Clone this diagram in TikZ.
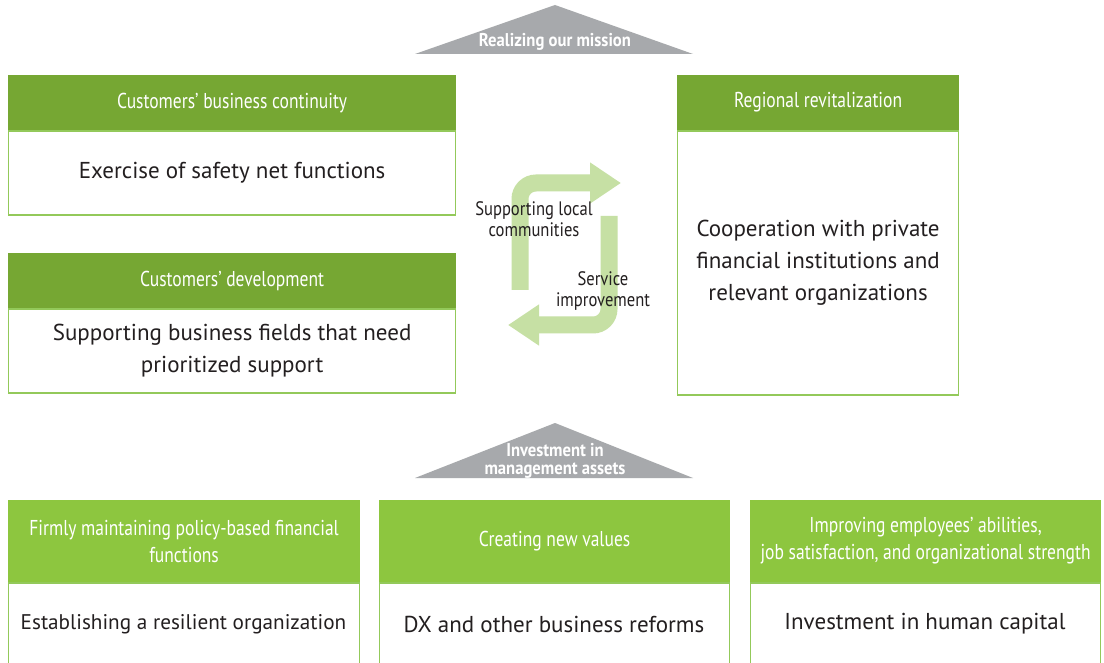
\documentclass[tikz,border=0pt]{standalone}
\usepackage{fontspec}
\setmainfont{PT Sans}
\newfontfamily\condf[FakeStretch=0.815]{PT Sans}
\newfontfamily\condtri[FakeStretch=0.9]{PT Sans}
\newfontfamily\condmid[FakeStretch=0.85]{PT Sans}
\usetikzlibrary{arrows.meta}
\definecolor{dgreen}{HTML}{76A733}
\definecolor{lgreen}{HTML}{8DC63F}
\definecolor{bordg}{HTML}{93C95A}
\definecolor{arrg}{HTML}{C6E0A4}
\definecolor{tgray}{HTML}{A7A9AC}
\definecolor{txt}{HTML}{231F20}
\tikzset{
  hdrtop/.style={fill=dgreen, draw=dgreen, line width=1.2pt, text=white, font=\condf\fontsize{21.5}{27}\selectfont, align=center, anchor=north west, inner sep=0pt},
  hdrbot/.style={fill=lgreen, draw=lgreen, line width=1.2pt, text=white, font=\condf\fontsize{21.5}{27}\selectfont, align=center, anchor=north west, inner sep=0pt},
  bodybox/.style={fill=white, draw=bordg, line width=1.5pt, text=txt, font=\fontsize{23}{32}\selectfont, align=center, anchor=north, inner sep=0pt},
  bodytext/.style={text=txt, font=\fontsize{23}{32}\selectfont, inner sep=0pt},
  tri/.style={fill=tgray, draw=none},
  trilabel/.style={text=white, font=\condtri\bfseries\fontsize{18.5}{18}\selectfont, align=center, inner sep=0pt},
  midlabel/.style={text=txt, font=\condmid\fontsize{19.5}{21.5}\selectfont, align=center, inner sep=0pt},
  cyclearrow/.style={draw=arrg, line width=17pt, rounded corners=16pt, -{Triangle[length=31pt,width=39pt]}}
}
\begin{document}
\begin{tikzpicture}[x=1pt,y=-1pt]
\useasboundingbox (0,0) rectangle (1104,663);
\clip (0,0) rectangle (1104,663);
\fill[white] (0,0) rectangle (1104,663);

% top triangle
\fill[tri] (415,54) -- (555,5) -- (693,54) -- cycle;
\node[trilabel] (mission) at (555,42) {Realizing our mission};

% top-left boxes
\node[hdrtop, minimum width=447pt, minimum height=54pt] (h1) at (8,75) {Customers’ business continuity};
\node[bodybox, minimum width=447pt, minimum height=84pt] (b1) at (h1.south) {Exercise of safety net functions};
\node[hdrtop, minimum width=447pt, minimum height=54pt] (h2) at (8,253) {Customers’ development};
\node[bodybox, minimum width=447pt, minimum height=84pt] (b2) at (h2.south) {Supporting business fields that need\\prioritized support};

% right box
\node[hdrtop, minimum width=281pt, minimum height=54pt] (h3) at (677,75) {Regional revitalization};
\node[bodybox, minimum width=281pt, minimum height=264pt] (b3) at (h3.south) {Cooperation with private\\financial institutions and\\relevant organizations};

% cycle arrows
\coordinate (a1s) at (520,290);
\coordinate (a1e) at (621,183);
\coordinate (a2s) at (609,216);
\coordinate (a2e) at (508,325);
\draw[cyclearrow] (a1s) |- (a1e);
\draw[cyclearrow] (a2s) |- (a2e);
\node[midlabel] (sup) at (534,219) {Supporting local\\communities};
\node[midlabel] (serv) at (603,291) {Service\\improvement};

% bottom triangle
\fill[tri] (415,478) -- (555,423) -- (693,478) -- cycle;
\node[trilabel] (invest) at (555,461) {Investment in\\management assets};

% bottom boxes
\node[hdrbot, minimum width=351pt, minimum height=81pt] (h4) at (8,500) {Firmly maintaining policy-based financial\\functions};
\node[bodybox, minimum width=351pt, minimum height=100pt] (b4) at (h4.south) {};
\node[bodytext, font=\fontsize{21.2}{32}\selectfont] (t4) at (183.5,624) {Establishing a resilient organization};
\node[hdrbot, minimum width=350pt, minimum height=81pt] (h5) at (379,500) {Creating new values};
\node[bodybox, minimum width=350pt, minimum height=100pt] (b5) at (h5.south) {};
\node[bodytext] (t5) at (554,624) {DX and other business reforms};
\node[hdrbot, minimum width=350pt, minimum height=81pt] (h6) at (750,500) {Improving employees’ abilities,\\job satisfaction, and organizational strength};
\node[bodybox, minimum width=350pt, minimum height=100pt] (b6) at (h6.south) {};
\node[bodytext] (t6) at (925,624) {Investment in human capital};
\end{tikzpicture}
\end{document}
